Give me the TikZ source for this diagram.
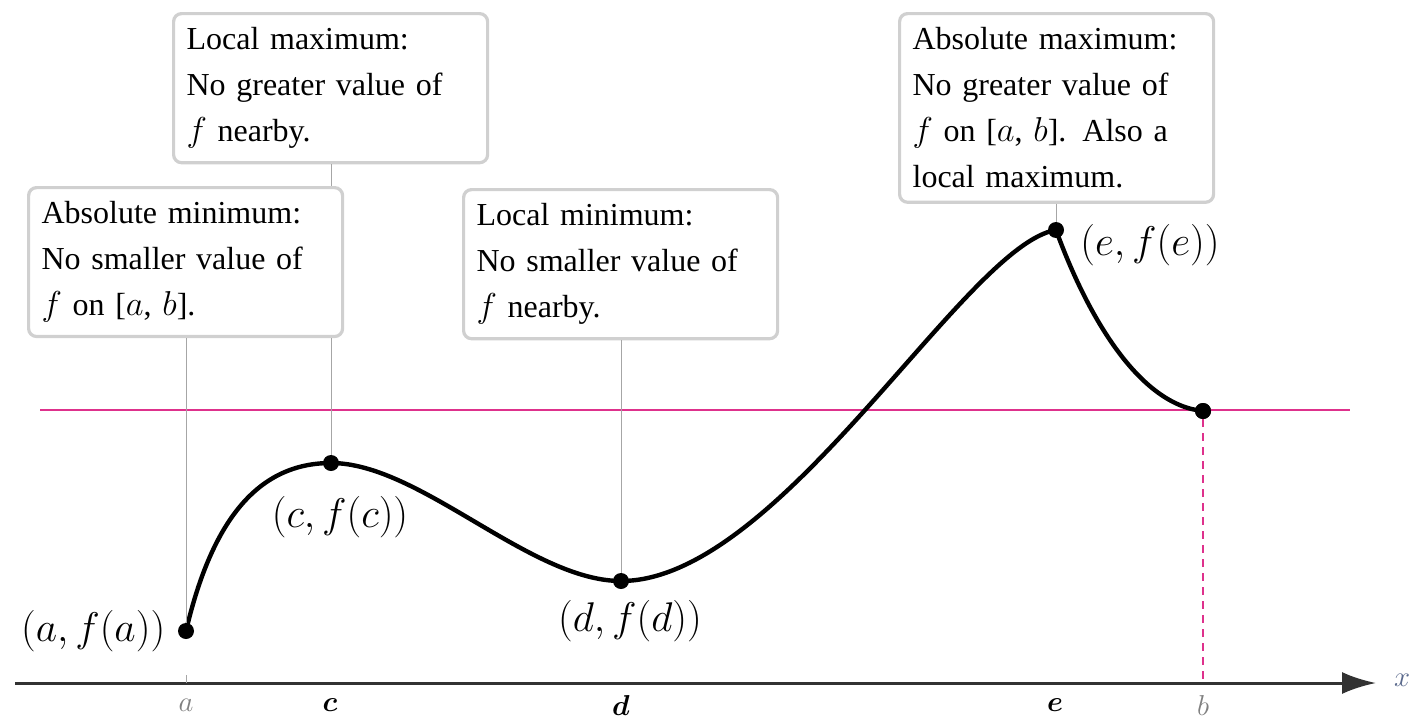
\documentclass[tikz,border=0pt]{standalone}
\usepackage{amsmath}
\usepackage{fontspec}
\setmainfont{Liberation Serif}
\usepackage{xcolor}
\usetikzlibrary{calc, positioning, arrows.meta}

\definecolor{hotpink}{RGB}{222,49,140}
\definecolor{boxgray}{RGB}{208,208,208}
\definecolor{axisgray}{RGB}{50,50,50}
\definecolor{xblue}{RGB}{90,105,140}

\begin{document}
\begin{tikzpicture}[x=0.5pt, y=-0.5pt, >=latex,
    infobox/.style={draw=boxgray, line width=1.6pt, rounded corners=4pt, fill=white,
        text width=144pt, inner xsep=6.5pt, inner ysep=7pt, align=left,
        anchor=north west, font=\fontsize{16}{23}\selectfont},
    guide/.style={gray!70, line width=0.5pt},
    dot/.style={circle, fill=black, inner sep=0pt, minimum size=8pt},
    ptlabel/.style={inner sep=2pt, font=\fontsize{20.5}{22}\selectfont},
    ticklabel/.style={font=\fontsize{15}{17}\selectfont}]
    \useasboundingbox (0,0) rectangle (1414,718);

    % 1. Truc Ox
    \coordinate (x0) at (15,683);
    \coordinate (x1) at (1376,683);
    \draw[-{Latex[length=17pt, width=11pt]}, line width=1.5pt, axisgray] (x0) -- (x1);
    \node[ticklabel, text=xblue] (lx) at (1402,680) {$x$};

    % 2. Cac diem tren do thi
    \node[dot] (pa) at (186,631) {};
    \node[dot] (pc) at (331,463) {};
    \node[dot] (pd) at (621,581) {};
    \node[dot] (pe) at (1056,230) {};
    \node[dot] (pb) at (1203,411) {};

    % 3. Duong ngang f(b) va duong dut
    \coordinate (h0) at (40,410);
    \coordinate (h1) at (1350,410);
    \draw[hotpink, line width=1pt] (h0) -- (h1);
    \draw[hotpink, line width=1pt, dash pattern=on 4pt off 3pt] (pb) -- (pb |- x0);

    % 4. Do thi
    \draw[line width=2.2pt] (pa.center)
        .. controls (212,520) and (258,463) .. (pc.center)
        .. controls (420,463) and (530,581) .. (pd.center)
        .. controls (780,581) and (965,245) .. (pe.center)
        .. controls (1088,318) and (1140,405) .. (pb.center);
    \node[dot] at (pb) {};

    % 5. Cac hop chu thich
    \node[infobox] (absmin) at (27,186) {Absolute minimum:\\No smaller value of\\$f$ on [$a$, $b$].};
    \node[infobox] (locmax) at (172,12) {Local maximum:\\No greater value of\\$f$ nearby.};
    \node[infobox] (locmin) at (462,188) {Local minimum:\\No smaller value of\\$f$ nearby.};
    \node[infobox] (absmax) at (898,12) {Absolute maximum:\\No greater value of\\$f$ on [$a$, $b$]. Also a\\local maximum.};

    % 6. Duong dong
    \draw[guide] (absmin.south -| pa) -- (pa);
    \draw[guide] (pa |- x0) -- ++(0,-8);
    \draw[guide] (locmax.south -| pc) -- (absmin.north -| pc);
    \draw[guide] (absmin.south -| pc) -- (pc);
    \draw[guide] (locmin.south -| pd) -- (pd);
    \draw[guide] (absmax.south -| pe) -- (pe);

    % 7. Nhan diem
    \node[ptlabel, left=4pt of pa] (lpa) {$(a, f(a))$};
    \node[ptlabel] (lpc) at ($(pc)+(9,54)$) {$(c, f(c))$};
    \node[ptlabel] (lpd) at ($(pd)+(9,40)$) {$(d, f(d))$};
    \node[ptlabel] (lpe) at ($(pe)+(94,15)$) {$(e, f(e))$};

    % 8. Nhan tren truc
    \node[ticklabel, text=gray] (la) at (186,705) {$a$};
    \node[ticklabel] (lc) at (330,705) {$\boldsymbol{c}$};
    \node[ticklabel] (ld) at (621,705) {$\boldsymbol{d}$};
    \node[ticklabel] (le) at (1055,705) {$\boldsymbol{e}$};
    \node[ticklabel, text=gray] (lb) at (1203,705) {$b$};
\end{tikzpicture}
\end{document}
